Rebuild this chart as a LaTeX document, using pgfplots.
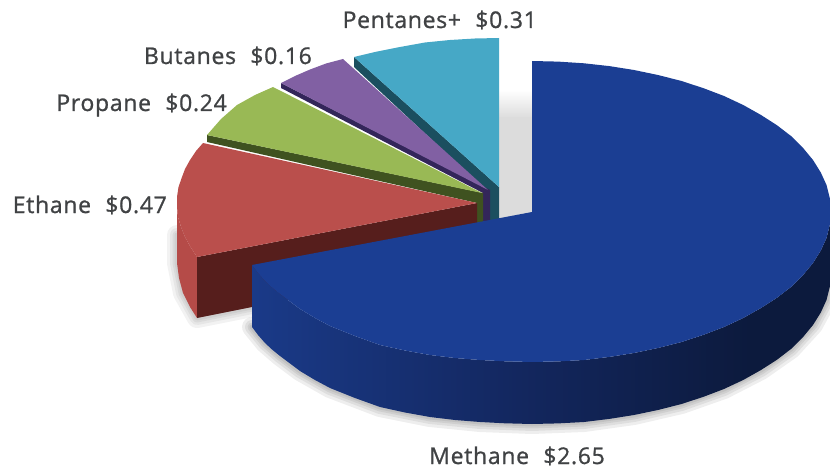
\documentclass[border=0pt]{standalone}
\usepackage{pgfplots}
\pgfplotsset{compat=1.18}
\usepackage{fontspec}
\setmainfont{Open Sans}[FakeBold=1,LetterSpace=3]
\definecolor{lbl}{HTML}{404244}
\definecolor{mTop}{HTML}{1B3E93}
\definecolor{mL}{HTML}{1A3A88}
\definecolor{mM}{HTML}{13275F}
\definecolor{mR}{HTML}{0C1A3D}
\definecolor{eTop}{HTML}{BA4F4C}
\definecolor{eSide}{HTML}{B54B48}
\definecolor{eIn}{HTML}{561E1C}
\definecolor{pTop}{HTML}{99B955}
\definecolor{pIn}{HTML}{3F5220}
\definecolor{bTop}{HTML}{8160A3}
\definecolor{bIn}{HTML}{33265A}
\definecolor{nTop}{HTML}{46A8C6}
\definecolor{nIn}{HTML}{1B4F5F}
\definecolor{wall}{HTML}{DCDCDC}
% rim of the methane slice: blue on the left, near-black from the middle on
\pgfdeclarehorizontalshading{methaneRim}{100bp}{
  color(0bp)=(mL); color(25bp)=(mL); color(48bp)=(mM); color(68bp)=(mR); color(100bp)=(mR)}

% Outer lower rim of the methane slice, used for its soft shadow
\pgfplotstableread{
x y
252 327
265 343
280 356
300 371
330 388
380 407
430 417
480 422
532 424
584 422
634 415
681.5 404
724 389
761 370
791 349
813 325
826.5 300
831 273.5
}\methanerim

\begin{document}
\begin{tikzpicture}
\begin{axis}[
  scale only axis, width=830pt, height=468pt,
  xmin=0, xmax=830, ymin=0, ymax=468, y dir=reverse,
  hide axis,
  every axis plot/.append style={draw=none, mark=none, line join=round},
]
% soft shadows under the slices
\pgfplotsinvokeforeach{20,14,9,5}{
  \addplot[draw=black, opacity=0.065, line width=#1 pt, line cap=round, fill=none]
    table[x=x,y=y] {\methanerim};
  \addplot[draw=black, opacity=0.05, line width=#1 pt, line cap=round, fill=none]
    coordinates {(177,235) (177,263) (183,293) (197,318) (252,307)};
}
% wall seen in the gap next to the methane slice
\addplot[top color=white, bottom color=wall]
  coordinates {(499,90) (532,90) (532,118) (499,118)} --cycle;
\addplot[fill=wall] coordinates {(499,118) (532,118) (532,214) (499,220)} --cycle;

% Pentanes+
\addplot[fill=nIn] coordinates {(354,57) (354,67) (490,194) (490,226) (499,226) (499,187)} --cycle;
\addplot[fill=nTop] coordinates {(499,38) (475,38.5) (450,40) (425,42.5) (400,47) (375,52) (354,57) (499,187)} --cycle;
% Butanes
\addplot[fill=bIn] coordinates {(281,83) (281,88) (483,193) (483,226) (490,226) (490,190)} --cycle;
\addplot[fill=bTop] coordinates {(343,59) (326,63.5) (310,69.5) (295,76) (281,83) (488,190)} --cycle;
% Propane
\addplot[fill=pIn] coordinates {(207,135) (207,142) (477,203) (477,226) (483,226) (483,193)} --cycle;
\addplot[fill=pTop] coordinates {(273,87) (255,95) (237,105) (221,119) (207,135) (482,193)} --cycle;
% Ethane
\addplot[fill=eSide] coordinates {(177,197) (177,207) (178,217) (181,227) (185,237) (190.5,247) (197,257) (197,318) (190,307) (183,293) (179,278) (177,263)} --cycle;
\addplot[fill=eIn] coordinates {(197,257) (477,203) (477,262) (197,318)} --cycle;
\addplot[fill=eTop] coordinates {(203,143) (196,151) (190,160) (185,169) (182,177) (178.5,187) (177,197) (177,207) (178,217) (181,227) (185,237) (190.5,247) (197,257) (477,203)} --cycle;
% Methane: rim, then top face
\addplot[shade, shading=methaneRim] coordinates {
  (831,211.5) (829.9,224.6) (826.5,238) (820.8,250.5) (813,263) (803,275.1) (791,287) (776.9,297.8) (761,308)
  (743.4,317.9) (724,327) (703.5,334.8) (681.5,342) (658.4,347.9) (634,353) (609.4,356.9) (584,360) (558,361.4) (532,362)
  (505,361.3) (480,360) (455,358) (430,355) (405,350.5) (380,345) (355,336) (330,326) (315,318) (300,309) (290,301.5) (280,294) (272,287.5) (265,281) (258,273) (252,265)
  (252,327) (258,335) (265,343) (272,349.5) (280,356) (290,363.5) (300,371) (315,380) (330,388) (355,398) (380,407) (405,412.5) (430,417) (455,420) (480,422) (505,423.3) (532,424)
  (558,423.4) (584,422) (609.4,418.9) (634,415) (658.4,409.9) (681.5,404) (703.5,396.8) (724,389) (743.4,379.9) (761,370) (776.9,359.8) (791,349) (803,337.1) (813,325) (820.8,312.5) (826.5,300) (829.9,286.6) (831,273.5)} --cycle;
\addplot[fill=mTop] coordinates {
  (532,212) (532,61) (558,61.6) (584,63.3) (609.4,66.1) (634,70) (658.4,75.1) (681.5,81) (703.5,88.2) (724,96) (743.4,105.1) (761,115)
  (776.9,125.2) (791,136) (803,147.9) (813,160) (820.8,172.5) (826.5,185) (829.9,198.4) (831,211.5)
  (829.9,224.6) (826.5,238) (820.8,250.5) (813,263) (803,275.1) (791,287) (776.9,297.8) (761,308)
  (743.4,317.9) (724,327) (703.5,334.8) (681.5,342) (658.4,347.9) (634,353) (609.4,356.9) (584,360) (558,361.4) (532,362)
  (505,361.3) (480,360) (455,358) (430,355) (405,350.5) (380,345) (355,336) (330,326) (315,318) (300,309) (290,301.5) (280,294) (272,287.5) (265,281) (258,273) (252,265)} --cycle;

% slice labels
\tikzset{every node/.style={text=lbl, font=\fontsize{23}{27}\selectfont, inner sep=0pt, anchor=base east}}
\node at (axis cs:537,28) {Pentanes+\hspace{0.62em}\$0.31};
\node at (axis cs:312,64) {Butanes\hspace{0.62em}\$0.16};
\node at (axis cs:227,111) {Propane\hspace{0.62em}\$0.24};
\node at (axis cs:167,213) {Ethane\hspace{0.62em}\$0.47};
\node at (axis cs:605,464) {Methane\hspace{0.62em}\$2.65};
\coordinate (pageSW) at (axis cs:0,468);
\coordinate (pageNE) at (axis cs:830,0);
\end{axis}
% the page is exactly the plot area
\pgfresetboundingbox
\useasboundingbox (pageSW) rectangle (pageNE);
\end{tikzpicture}
\end{document}
